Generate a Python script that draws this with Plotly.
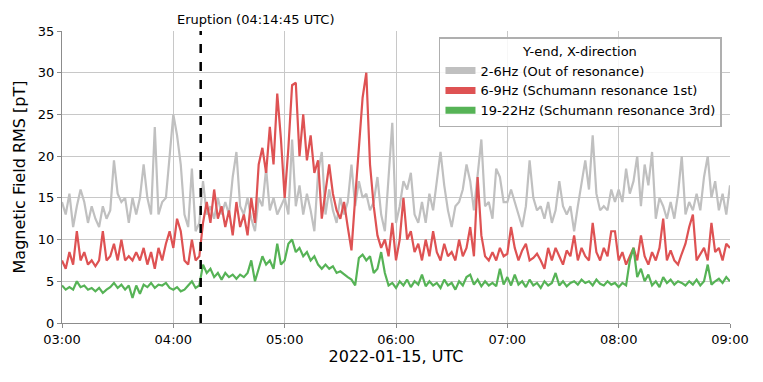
import pandas as pd
import plotly.graph_objects as go

# 2-minute samples, 03:00 -> 09:00 UTC (181 points), values in pT
times = pd.date_range("2022-01-15 03:00", "2022-01-15 09:00", freq="2min")

grey_2_6hz = [
    14.5, 13, 15.5, 11.5, 14, 16, 14.5, 12, 14, 12.5, 11.5, 14, 12.5, 13.5, 19.5, 15.5, 14.5, 15, 12, 15, 13, 15, 19, 15, 13, 23.5, 13, 14.5, 15, 20,
    25, 22.5, 19, 13, 11.5, 18.5, 11, 12, 17, 13, 14, 12.5, 15, 13, 14.5, 13, 17.5, 20.5, 14, 13, 15, 12.5, 11, 15, 14, 18.5, 13.5, 15, 13, 14,
    15, 13, 22, 14, 16.5, 13, 15.5, 13.5, 11, 18, 20.5, 13, 16, 13.5, 12, 15, 13, 14.5, 19, 14, 17, 15, 15.5, 13.5, 14.5, 17.5, 13, 11, 17, 24,
    12, 14, 17, 16, 18, 13, 12, 14.5, 12, 15.5, 13.5, 17, 20.5, 16.5, 13.5, 11.5, 14, 14.5, 16, 19, 17, 13.5, 18, 22, 14, 14.5, 12.5, 18.5, 17.5, 14.5,
    14.5, 16, 14.5, 13, 11.5, 14, 19.5, 15, 13.5, 14, 12.5, 14.5, 12, 13.5, 17, 14, 13, 14, 11, 14, 17, 19.5, 16, 22.5, 15.5, 13.5, 14, 13.5, 16, 14.5,
    16, 14.5, 18.5, 15.5, 17, 20, 14, 19, 16.5, 20.5, 12.5, 15, 14, 12.5, 14.5, 12.5, 15.5, 20, 13, 14.5, 13.5, 15.5, 13.5, 17.5, 20, 15, 17, 13.5, 15.5, 13,
    16.5,
]

red_6_9hz = [
    7.5, 6.5, 8.5, 7, 11, 7.5, 8.5, 7, 7.5, 6.8, 7.5, 11, 7.5, 8, 9.5, 7.5, 10, 7.5, 8, 7.5, 8.5, 7.5, 9, 7, 8.5, 6.5, 9, 7.5, 9.5, 11,
    9, 12.5, 11, 7.5, 7, 10, 7.5, 8, 12, 14.5, 12, 16, 12.5, 14, 11.5, 13.5, 10.5, 14.5, 11.5, 13, 10.5, 15, 12, 19, 21, 18, 23.5, 19, 27.5, 22,
    15, 21, 28.5, 28.8, 20, 25, 19.5, 22.5, 18, 19.5, 12.5, 16, 19, 15.5, 13.5, 12.5, 14.5, 11.5, 8.7, 15, 21, 27, 30, 19, 14, 10.5, 9, 10, 8, 12,
    7.5, 10, 15, 10, 11, 8.5, 9.5, 7.5, 10, 8, 11, 8.5, 7.5, 9.5, 8, 8.5, 7.5, 10, 8, 9, 11.5, 8, 17.5, 10.5, 8, 7.5, 8.5, 7.5, 9, 8,
    8.3, 11.5, 9, 7.5, 8.7, 9.5, 7.5, 7.8, 8.3, 7.5, 6.5, 9, 7.5, 9, 8, 7, 8.7, 8, 10.5, 7.5, 9, 8, 7.5, 12, 8.5, 7.5, 9, 8, 11, 11,
    7.5, 8.5, 7, 8, 9, 7.5, 10.5, 8, 7, 8.5, 7.5, 9, 12.5, 7.5, 8.7, 7.5, 7, 8.3, 9.5, 11.5, 13, 7.5, 8.3, 9, 7.5, 12, 8.5, 9, 7.5, 9.5,
    9,
]

green_19_22hz = [
    4.5, 4.0, 4.3, 4.0, 5.0, 4.3, 4.5, 4.0, 4.2, 3.8, 4.2, 3.6, 4.0, 4.3, 4.8, 4.2, 4.6, 4.0, 4.5, 3.0, 4.5, 3.5, 4.6, 4.3, 4.8, 4.2, 4.6, 4.5, 4.8, 4.2,
    4.0, 4.3, 3.8, 4.0, 4.5, 5.0, 4.2, 4.5, 7.0, 6.0, 6.5, 5.5, 6.0, 5.2, 6.0, 5.5, 5.8, 5.3, 5.8, 5.5, 6.0, 7.5, 5.0, 6.5, 8.0, 7.0, 7.5, 6.5, 9.5, 7.0,
    7.5, 9.5, 10, 8.5, 9, 8, 8.5, 7.5, 8, 7, 6.5, 7, 6.5, 6.8, 6, 6.2, 5.8, 5.5, 5.2, 4.5, 7.8, 8.2, 7.5, 8.0, 6.0, 6.5, 8.5, 6.0, 4.5, 4.8,
    4.2, 5.0, 4.5, 5.2, 4.3, 5.0, 4.6, 5.8, 4.4, 5.0, 4.5, 4.8, 4.2, 5.2, 4.5, 4.8, 4.0, 5.0, 4.5, 5.5, 5.8, 4.6, 5.2, 4.4, 5.0, 4.5, 4.8, 4.4, 6.5, 4.6,
    5.5, 4.5, 5.8, 4.6, 5.0, 4.3, 5.2, 4.5, 4.8, 4.2, 5.0, 4.5, 4.8, 6.0, 4.5, 5.0, 4.4, 4.8, 5.0, 4.6, 5.2, 4.8, 5.0, 4.5, 5.2, 4.7, 4.5, 5.0, 4.6, 4.8,
    4.3, 4.8, 4.5, 7.5, 9.0, 5.5, 6.5, 5.0, 5.8, 4.5, 5.0, 4.3, 5.5, 4.8, 5.2, 4.6, 5.0, 4.8, 4.5, 5.0, 4.6, 5.2, 4.5, 5.0, 7.0, 4.6, 5.0, 5.3, 4.8, 5.5,
    5.0,
]

series_names = [
    "2-6Hz (Out of resonance)",
    "6-9Hz (Schumann resonance 1st)",
    "19-22Hz (Schumann resonance 3rd)",
]
colors = ["rgb(192,192,192)", "rgb(222,82,83)", "rgb(86,179,86)"]

eruption = pd.Timestamp("2022-01-15 04:14:45")
x_start = pd.Timestamp("2022-01-15 03:00")
x_end = pd.Timestamp("2022-01-15 09:00")
hour_ticks = pd.date_range(x_start, x_end, freq="1h")

fig = go.Figure()
for name, vals, c in zip(series_names, [grey_2_6hz, red_6_9hz, green_19_22hz], colors):
    fig.add_trace(go.Scatter(x=times, y=vals, mode="lines", line=dict(color=c, width=2.2),
                             showlegend=False, hoverinfo="skip"))

# legend-only patches
for name, c in zip(series_names, colors):
    fig.add_trace(go.Scatter(x=[None], y=[None], mode="lines", name=name,
                             line=dict(color=c, width=7)))

fig.add_shape(type="line", x0=eruption, x1=eruption, y0=0, y1=35, xref="x", yref="y",
              line=dict(color="black", width=2.5, dash="dash"))
fig.add_annotation(x=eruption, y=1.0, xref="x", yref="paper", yanchor="bottom", yshift=2,
                   xshift=55, text="Eruption (04:14:45 UTC)", showarrow=False,
                   font=dict(size=13, color="black"))

axis_grey = "rgb(140,140,140)"

# page body has an 8px margin, so the figure is 8px smaller than the window
fig.update_layout(
    width=755, height=374,
    margin=dict(l=54, r=33, t=23, b=59),
    plot_bgcolor="white", paper_bgcolor="white",
    font=dict(family="DejaVu Sans", size=13, color="black"),
    legend=dict(
        x=0.988, y=0.979, xanchor="right", yanchor="top",
        bgcolor="rgba(255,255,255,0.85)", bordercolor="rgb(175,175,175)", borderwidth=1.5,
        font=dict(size=13), itemwidth=30, tracegroupgap=0,
        title=dict(text="Y-end, X-direction", side="top center", font=dict(size=13)),
    ),
)
fig.update_xaxes(
    range=[x_start, x_end], tickvals=hour_ticks, tickformat="%H:%M",
    showgrid=True, gridcolor="rgb(200,200,200)", gridwidth=1,
    showline=True, linecolor=axis_grey, linewidth=1,
    ticks="outside", ticklen=4, tickcolor=axis_grey,
    title=dict(text="2022-01-15, UTC", font=dict(size=16), standoff=5),
)
fig.update_yaxes(
    range=[0, 35], dtick=5,
    showgrid=True, gridcolor="rgb(200,200,200)", gridwidth=1,
    showline=True, linecolor=axis_grey, linewidth=1, zeroline=False,
    ticks="outside", ticklen=4, tickcolor=axis_grey,
    title=dict(text="Magnetic Field RMS [pT]", font=dict(size=16), standoff=8),
)

fig.write_html("out.html")
